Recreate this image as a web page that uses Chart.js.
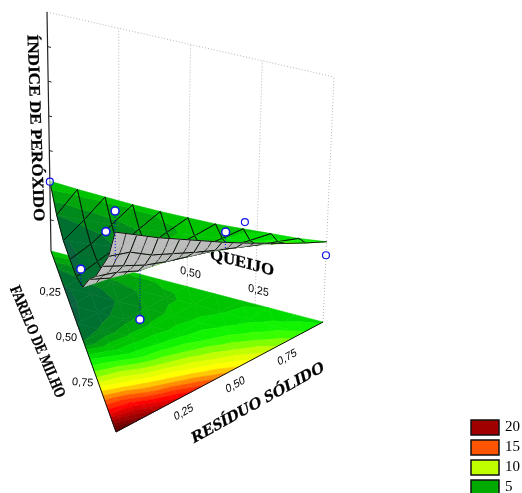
<!DOCTYPE html>
<html>
<head>
<meta charset="utf-8">
<title>Índice de peróxido</title>
<script src="https://cdn.jsdelivr.net/npm/chart.js@4"></script>
<style>
  html, body { margin: 0; padding: 0; background: #fff; }
  #chart { display: block; }
</style>
</head>
<body>
<canvas id="chart" width="522" height="493"></canvas>
<script>
// ternary lattice: rows are farelo de milho, columns are resíduo sólido, queijo is the rest
const fareloLevels = [0, 0.1, 0.2, 0.3, 0.4, 0.5, 0.6, 0.7, 0.8, 0.9, 1];
const residuoLevels = [0, 0.1, 0.2, 0.3, 0.4, 0.5, 0.6, 0.7, 0.8, 0.9, 1];
const indiceValues = [
  [5.6, 5.4, 5.3, 5.2, 5.2, 5.3, 5.4, 5.7, 6.0, 6.3, 6.8],
  [3.3, 3.6, 3.9, 4.3, 4.8, 5.3, 5.9, 6.6, 7.4, 8.2],
  [2.2, 2.7, 3.4, 4.3, 5.3, 6.3, 7.3, 8.5, 9.7],
  [2.1, 2.8, 3.9, 5.2, 6.6, 8.1, 9.7, 11.3],
  [2.2, 3.6, 5.3, 7.1, 9.0, 10.9, 12.9],
  [3.3, 5.6, 7.6, 9.9, 12.2, 14.6],
  [7.0, 9.0, 11.0, 13.6, 16.4],
  [10.0, 12.5, 15.0, 18.2],
  [14.0, 17.0, 20.0],
  [18.0, 22.0],
  [24.0]
];

// experimental runs
const runFarelo = [1, 0.86, 0.47, 0.485, 0.5];
const runResiduo = [0, 0, 0, 0.515, 0.207];
const runValues = [27, 20.5, 5.1, 15.8, 0.75];
const runSurface = [19.7, 20.5, 2.8, 13.3, 8];
const hollowFarelo = [0, 0, 0];
const hollowResiduo = [0, 0.705, 1];
const hollowValues = [5.5, 6.7, 4.9];

const zTicks = [0, 5, 10, 15, 20, 25];
const fareloTicks = [0.25, 0.5, 0.75];
const residuoTicks = [0.25, 0.5, 0.75];
const queijoTicks = [0.5, 0.25];
const legendLevels = [20, 15, 10, 5];

const bandLevels = [-10, 2.3, 3.3, 4.2, 5, 6, 7, 8, 9, 10, 11, 12, 13, 14, 15, 16, 17, 18, 19, 20, 21, 22];
const bandColors = [
  '#0a6440', '#007030', '#008a1c', '#00a60c', '#00c400', '#00dc00', '#10f400', '#38ff00',
  '#80ff00', '#bfff00', '#e6ff00', '#ffff00', '#ffc800', '#ff8c00', '#ff5500', '#ff2a00',
  '#ff0000', '#e00000', '#c00000', '#a00000', '#880000', '#6a0000'
];
const legendColors = ['#a00000', '#ff5500', '#bfff00', '#00aa00'];

const zMin = -4.5;
const zMax = 30;

// corners of the prism on the picture: queijo, farelo, resíduo
const floorA = [51, 251], floorB = [116, 432], floorC = [323, 322];
const topA = [47, 12], topB = [115, 190], topC = [334, 77];

function project(b, c, v) {
  const a = 1 - b - c;
  const z = (v - zMin) / (zMax - zMin);
  const bx = a * floorA[0] + b * floorB[0] + c * floorC[0];
  const by = a * floorA[1] + b * floorB[1] + c * floorC[1];
  const tx = a * topA[0] + b * topB[0] + c * topC[0];
  const ty = a * topA[1] + b * topB[1] + c * topC[1];
  return { x: bx + (tx - bx) * z, y: by + (ty - by) * z };
}

function floorPoint(b, c) {
  return project(b, c, zMin);
}

function node(i, j) {
  return { b: fareloLevels[i], c: residuoLevels[j], v: indiceValues[i][j] };
}

function middle(p, q) {
  return { b: (p.b + q.b) / 2, c: (p.c + q.c) / 2, v: (p.v + q.v) / 2 };
}

function clipBand(poly, level, keepAbove) {
  const out = [];
  poly.forEach((p, idx) => {
    const q = poly[(idx + 1) % poly.length];
    const pIn = keepAbove ? p.v >= level : p.v <= level;
    const qIn = keepAbove ? q.v >= level : q.v <= level;
    if (pIn) out.push(p);
    if (pIn !== qIn) {
      const t = (level - p.v) / (q.v - p.v);
      out.push({ b: p.b + (q.b - p.b) * t, c: p.c + (q.c - p.c) * t, v: level });
    }
  });
  return out;
}

function bandPolygons(tri) {
  const parts = [];
  bandColors.forEach((color, k) => {
    let poly = clipBand(tri, bandLevels[k], true);
    if (k + 1 < bandLevels.length && poly.length) poly = clipBand(poly, bandLevels[k + 1], false);
    if (poly.length > 2) parts.push({ poly, color });
  });
  return parts;
}

function shape(points, color) {
  return {
    data: [...points, points[0]],
    showLine: true,
    fill: 'shape',
    backgroundColor: color,
    borderColor: color,
    borderWidth: 0.6,
    pointRadius: 0
  };
}

function line(points, color, width, dash) {
  return {
    data: points,
    showLine: true,
    fill: false,
    borderColor: color,
    borderWidth: width,
    borderDash: dash || [],
    pointRadius: 0
  };
}

function signedArea(p, q, r) {
  return (q.x - p.x) * (r.y - p.y) - (r.x - p.x) * (q.y - p.y);
}

function buildTriangles() {
  const tris = [];
  for (let i = 0; i < fareloLevels.length - 1; i += 1) {
    for (let j = 0; j < indiceValues[i].length - 1; j += 1) {
      const p = node(i, j);
      const q = node(i, j + 1);
      const r = node(i + 1, j);
      tris.push({ nodes: [p, q, r], mesh: [p, r, q], hatch: [middle(p, q), middle(r, q)] });
      if (j + 1 < indiceValues[i + 1].length) {
        const s = node(i + 1, j + 1);
        tris.push({ nodes: [q, s, r], mesh: [s, q, r], hatch: [middle(r, q), middle(r, s)] });
      }
    }
  }
  return tris;
}

function buildDatasets() {
  const sets = [];
  const grid = '#b4b4b4';

  // walls
  sets.push(line([project(0, 0, zMax), project(0, 1, zMax)], grid, 1, [1, 2]));
  [0.25, 0.5, 0.75, 1].forEach(c => {
    sets.push(line([project(0, c, zMin), project(0, c, zMax)], grid, 1, [1, 2]));
  });
  sets.push(line([project(0, 0, zMax), project(0, 0, zMin)], '#222', 1.2));
  zTicks.forEach(v => {
    sets.push(line([project(0, 0, v), project(0, 0.012, v)], '#222', 1));
  });

  const tris = buildTriangles();

  // floor contours
  tris.forEach(tri => {
    bandPolygons(tri.nodes).forEach(part => {
      sets.push(shape(part.poly.map(n => floorPoint(n.b, n.c)), part.color));
    });
  });
  sets.push(line([floorPoint(0, 0), floorPoint(1, 0), floorPoint(0, 1)], '#111', 1));

  // surface, far rows first so the near part covers them
  tris.forEach(tri => {
    const pts = tri.nodes.map(n => project(n.b, n.c, n.v));
    const flat = tri.nodes.map(n => floorPoint(n.b, n.c));
    const flipped = signedArea(pts[0], pts[1], pts[2]) * signedArea(flat[0], flat[1], flat[2]) < 0;
    if (flipped) {
      sets.push(shape(pts, '#bcbcbc'));
      sets.push(line(tri.hatch.map(n => project(n.b, n.c, n.v)), '#202020', 0.9));
    } else {
      bandPolygons(tri.nodes).forEach(part => {
        sets.push(shape(part.poly.map(n => project(n.b, n.c, n.v)), part.color));
      });
    }
    sets.push(line(tri.mesh.map(n => project(n.b, n.c, n.v)), '#0a140a', 1));
  });

  // runs
  runValues.forEach((v, i) => {
    sets.push(line([project(runFarelo[i], runResiduo[i], v), project(runFarelo[i], runResiduo[i], runSurface[i])], '#0000e0', 1, [1, 2]));
  });
  sets.push({
    data: hollowValues.map((v, i) => project(hollowFarelo[i], hollowResiduo[i], v)),
    showLine: false,
    pointRadius: 3.5,
    pointBackgroundColor: 'rgba(255,255,255,0.6)',
    pointBorderColor: '#1414e6',
    pointBorderWidth: 1.2
  });
  sets.push({
    data: runValues.map((v, i) => project(runFarelo[i], runResiduo[i], v)),
    showLine: false,
    pointRadius: 4,
    pointBackgroundColor: '#fff',
    pointBorderColor: '#1414e6',
    pointBorderWidth: 1.6
  });

  // chart.js paints the first dataset last
  return sets.reverse();
}

// shear leans the letters away from a plain rotation, the floor text is laid in perspective
function drawText(ctx, text, x, y, angle, font, length, shear, weight) {
  ctx.save();
  ctx.translate(x, y);
  ctx.rotate(angle * Math.PI / 180);
  if (shear) ctx.transform(1, 0, shear, 1, 0, 0);
  ctx.font = font;
  if (length) ctx.scale(length / ctx.measureText(text).width, 1);
  ctx.textAlign = 'center';
  ctx.textBaseline = 'middle';
  ctx.fillStyle = '#000';
  ctx.fillText(text, 0, 0);
  if (weight) {
    ctx.strokeStyle = '#000';
    ctx.lineWidth = weight;
    ctx.strokeText(text, 0, 0);
  }
  ctx.restore();
}

function fmtTick(value) {
  return value.toFixed(2).replace('.', ',');
}

const labelsPlugin = {
  id: 'labels',
  beforeDatasetsDraw(chart) {
    const ctx = chart.ctx;
    const title = 'bold 16px "Liberation Serif"';
    const tick = '11px "Liberation Sans"';
    drawText(ctx, 'ÍNDICE DE PERÓXIDO', 35, 128, 88, title, 187, 0, 0.3);
    drawText(ctx, 'FARELO DE MILHO', 37, 342, 67, title, 120, 0, 0.3);
    drawText(ctx, 'RESÍDUO SÓLIDO', 258, 403, -29, title, 150, -0.25, 0.3);
    drawText(ctx, 'QUEIJO', 242, 263, 15, title, 66, 0.2, 0.3);
    fareloTicks.forEach(b => {
      const p = floorPoint(b, 0);
      drawText(ctx, fmtTick(b), p.x - 17, p.y - 4, 4, tick, 0, 0);
    });
    residuoTicks.forEach(c => {
      const p = floorPoint(1 - c, c);
      drawText(ctx, fmtTick(c), p.x + 16, p.y + 8, -30, tick, 0, -0.25);
    });
    queijoTicks.forEach(a => {
      const p = floorPoint(0, 1 - a);
      drawText(ctx, fmtTick(a), p.x + 3.5, p.y - 13.5, 14, tick, 0, 0.2);
    });
  },
  afterDraw(chart) {
    const ctx = chart.ctx;
    legendLevels.forEach((level, i) => {
      const top = 420 + i * 20;
      ctx.fillStyle = legendColors[i];
      ctx.strokeStyle = '#111';
      ctx.lineWidth = 1.5;
      ctx.fillRect(471, top, 28, 15);
      ctx.strokeRect(471, top, 28, 15);
      ctx.fillStyle = '#000';
      ctx.font = '15px "Liberation Serif"';
      ctx.textAlign = 'left';
      ctx.textBaseline = 'middle';
      ctx.fillText(String(level), 505, top + 7);
    });
  }
};

new Chart(document.getElementById('chart'), {
  type: 'scatter',
  data: { datasets: buildDatasets() },
  options: {
    responsive: false,
    animation: false,
    layout: { padding: 0, autoPadding: false },
    events: [],
    scales: {
      x: { type: 'linear', display: false, min: 0, max: 522 },
      y: { type: 'linear', display: false, min: 0, max: 493, reverse: true }
    },
    plugins: { legend: { display: false }, tooltip: { enabled: false } }
  },
  plugins: [labelsPlugin]
});
</script>
</body>
</html>
